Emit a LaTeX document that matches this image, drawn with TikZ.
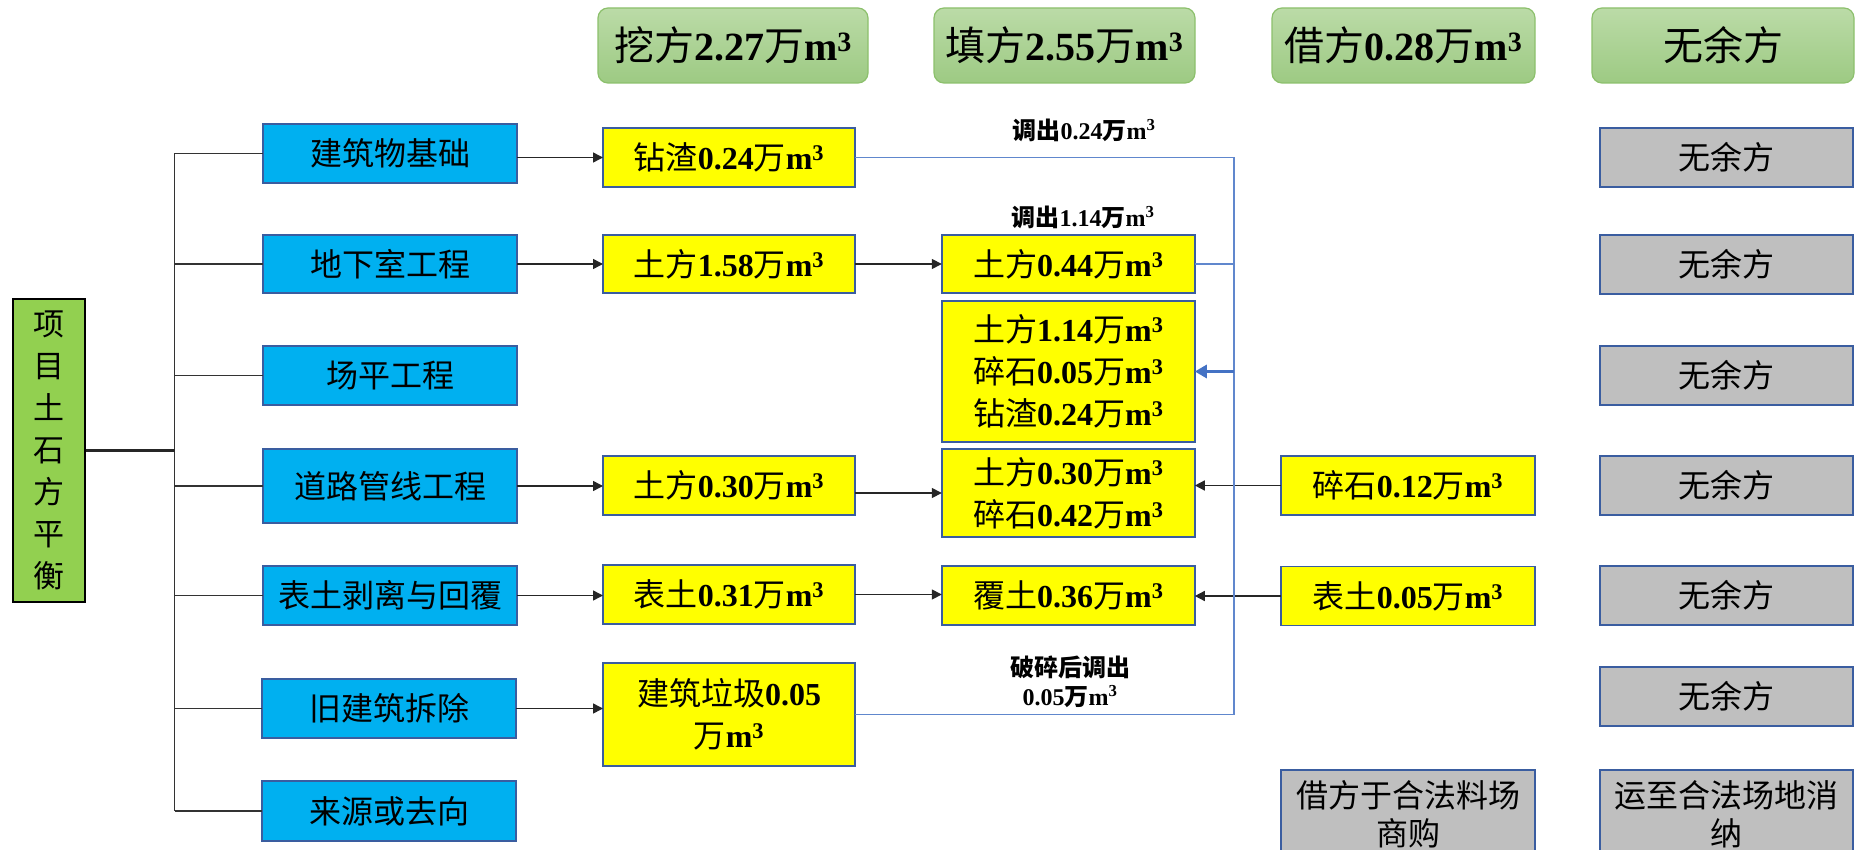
\documentclass[tikz,border=0pt]{standalone}
\usepackage{fontspec}
\setmainfont{Liberation Serif}
\newfontfamily\cjk{Noto Sans CJK SC}
\usetikzlibrary{arrows.meta}
\definecolor{bbox}{HTML}{00B0F0}
\definecolor{bord}{HTML}{3A5DA0}
\definecolor{ybox}{HTML}{FFFF00}
\definecolor{gbox}{HTML}{BFBFBF}
\definecolor{lgreen}{HTML}{92D050}
\definecolor{htop}{HTML}{BBDBA7}
\definecolor{hbot}{HTML}{9DCA83}
\definecolor{hbord}{HTML}{8CC06C}
\definecolor{bline}{HTML}{4472C4}
\newcommand\C[1]{{\cjk #1}}
\newcommand\Q[2]{\C{#1}\textbf{#2}\C{万}\textbf{m\textsuperscript{3}}}
\tikzset{
  box/.style={draw=bord, line width=1.8pt, inner sep=0pt, outer sep=0pt, align=center, anchor=center},
  bluebox/.style={box, fill=bbox, minimum width=254pt, font=\cjk\fontsize{32}{42}\selectfont},
  yelbox/.style={box, fill=ybox, font=\fontsize{32}{42}\selectfont},
  col1/.style={yelbox, minimum width=252pt},
  col2/.style={yelbox, minimum width=253pt},
  col3/.style={yelbox, minimum width=254pt},
  greybox/.style={box, fill=gbox, minimum width=253pt, font=\cjk\fontsize{32}{38}\selectfont},
  headbox/.style={draw=hbord, line width=1.2pt, rounded corners=10pt, top color=htop, bottom color=hbot,
     minimum height=75pt, inner sep=0pt, anchor=center, font=\fontsize{40}{48}\selectfont},
  greenbox/.style={draw=black, line width=2pt, fill=lgreen, minimum width=72pt, minimum height=303pt,
     inner sep=0pt, align=center, font=\cjk\fontsize{31}{42}\selectfont},
  conn/.style={line width=1.5pt, black!85},
  trunk/.style={line width=1.6pt, black!80},
  arr/.style={conn, -{Triangle[length=10pt,width=10pt]}},
  blueline/.style={bline!85, line width=1.3pt},
  bluearr/.style={bline, line width=3pt, -{Triangle[length=12pt,width=13pt]}},
  lab/.style={font=\fontsize{24}{29}\selectfont\bfseries, align=center, inner sep=0pt}
}
\begin{document}
\begin{tikzpicture}[x=1pt,y=-1pt]
\useasboundingbox (0,0) rectangle (1861,850);
\clip (0,0) rectangle (1861,850);

% headers
\node[headbox, minimum width=270pt] (h1) at (733,45.5) {\Q{挖方}{2.27}};
\node[headbox, minimum width=261pt] (h2) at (1064.5,45.5) {\Q{填方}{2.55}};
\node[headbox, minimum width=263pt] (h3) at (1403.5,45.5) {\Q{借方}{0.28}};
\node[headbox, minimum width=262pt] (h4) at (1723,45.5) {\C{无余方}};

% root
\node[greenbox] (g) at (48.6,450.5) {项\\目\\土\\石\\方\\平\\衡};

% blue boxes
\node[bluebox, minimum height=59pt] (b1) at (390,153.5) {建筑物基础};
\node[bluebox, minimum height=58pt] (b2) at (390,264) {地下室工程};
\node[bluebox, minimum height=59pt] (b3) at (390,375.5) {场平工程};
\node[bluebox, minimum height=74pt] (b4) at (390,486) {道路管线工程};
\node[bluebox, minimum height=59pt] (b5) at (390,595.5) {表土剥离与回覆};
\node[bluebox, minimum height=59pt] (b6) at (389,708.5) {旧建筑拆除};
\node[bluebox, minimum height=60pt] (b7) at (389,811) {来源或去向};

% trunk
\coordinate (tt) at (174.5,153.5);
\coordinate (tb) at (174.5,811);
\draw[trunk] (tt) -- (tb);
\draw[line width=2.5pt, black!85] (g.east) -- (g.east -| tt);
\foreach \b in {b1,b2,b3,b4,b5,b6,b7}{\draw[trunk] (\b.west -| tt) -- (\b.west);}

% column 1
\node[col1, minimum height=59pt] (y1) at (729,157.5) {\Q{钻渣}{0.24}};
\node[col1, minimum height=58pt] (y2) at (729,264) {\Q{土方}{1.58}};
\node[col1, minimum height=59pt] (y3) at (729,485.5) {\Q{土方}{0.30}};
\node[col1, minimum height=59pt] (y4) at (729,594.5) {\Q{表土}{0.31}};
\node[col1, minimum height=103pt] (y5) at (729,714.5) {\C{建筑垃圾}\textbf{0.05}\\\C{万}\textbf{m\textsuperscript{3}}};

% column 2
\node[col2, minimum height=58pt] (z1) at (1068.3,264) {\Q{土方}{0.44}};
\node[col2, minimum height=141pt] (z2) at (1068.3,371.5) {\Q{土方}{1.14}\\\Q{碎石}{0.05}\\\Q{钻渣}{0.24}};
\node[col2, minimum height=88pt] (z3) at (1068.3,493) {\Q{土方}{0.30}\\\Q{碎石}{0.42}};
\node[col2, minimum height=59pt] (z4) at (1068.3,595.5) {\Q{覆土}{0.36}};

% column 3
\node[col3, minimum height=59pt] (c1) at (1408,485.5) {\Q{碎石}{0.12}};
\node[col3, minimum height=59pt] (c2) at (1408,596) {\Q{表土}{0.05}};
\node[greybox, minimum width=254pt, minimum height=88pt] (c3) at (1408,814) {借方于合法料场\\商购};

% column 4
\node[greybox, minimum height=59pt] (w1) at (1726.5,157.5) {无余方};
\node[greybox, minimum height=59pt] (w2) at (1726.5,264.5) {无余方};
\node[greybox, minimum height=59pt] (w3) at (1726.5,375.5) {无余方};
\node[greybox, minimum height=59pt] (w4) at (1726.5,485.5) {无余方};
\node[greybox, minimum height=59pt] (w5) at (1726.5,595.5) {无余方};
\node[greybox, minimum height=59pt] (w6) at (1726.5,696.5) {无余方};
\node[greybox, minimum height=88pt] (w7) at (1726.5,814) {运至合法场地消\\纳};

% arrows blue -> column 1
\draw[arr] (b1.east |- y1.west) -- (y1.west);
\draw[arr] (b2.east) -- (y2.west);
\draw[arr] (b4.east) -- (b4.east -| y3.west);
\draw[arr] (b5.east) -- (b5.east -| y4.west);
\draw[arr] (b6.east) -- (b6.east -| y5.west);

% column 1 -> column 2
\draw[arr] (y2.east) -- (z1.west);
\draw[arr] (y3.east |- z3.west) -- (z3.west);
\draw[arr] (y4.east) -- (y4.east -| z4.west);

% column 3 -> column 2
\draw[arr] (c1.west) -- (c1.west -| z3.east);
\draw[arr] (c2.west) -- (c2.west -| z4.east);

% blue transfer lines
\coordinate (bv) at (1234,0);
\draw[blueline] (y1.east) -- (y1.east -| bv) -- (bv |- y5.east) -- (y5.east);
\draw[blueline] (z1.east) -- (z1.east -| bv);
\draw[bluearr] (bv |- z2.east) -- (z2.east);

% labels
\node[lab] (l1) at (1084,130) {\Q{调出}{0.24}};
\node[lab] (l2) at (1083,217) {\Q{调出}{1.14}};
\node[lab] (l3) at (1070,682) {\C{破碎后调出}\\\textbf{0.05}\C{万}\textbf{m\textsuperscript{3}}};
\end{tikzpicture}
\end{document}
